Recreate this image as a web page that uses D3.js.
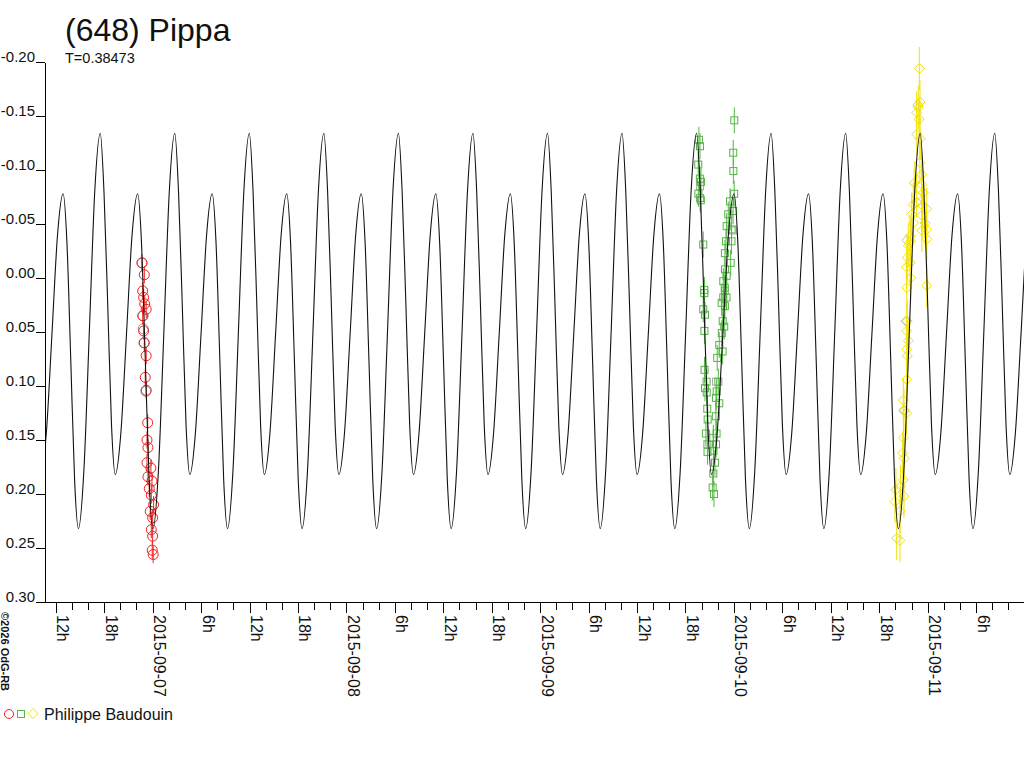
<!DOCTYPE html>
<html>
<head>
<meta charset="utf-8">
<script src="https://cdnjs.cloudflare.com/ajax/libs/d3/7.8.5/d3.min.js"></script>
<style>
body { margin: 0; background: #fff; }
text { font-family: "Liberation Sans", Arial, sans-serif; fill: #111; }
</style>
</head>
<body>
<script>
var title = "(648) Pippa";
var periodDays = 0.38473;
var epoch = "2015-09-06T17:30:36Z"; // time of a main maximum of the model
var observer = "Philippe Baudouin";
var credit = "\u00a92026 OdG-RB";

var xStart = "2015-09-06T10:40Z";
var xEnd = "2015-09-11T11:56Z";
var yTicks = [-0.20, -0.15, -0.10, -0.05, 0.00, 0.05, 0.10, 0.15, 0.20, 0.25, 0.30];

// one period of the model lightcurve
var modelPhase = [0, 0.05, 0.10, 0.151, 0.201, 0.276, 0.352, 0.427, 0.502, 0.553, 0.605, 0.656, 0.707, 0.780, 0.854, 0.927];
var modelMag = [-0.134, -0.080, 0.024, 0.136, 0.182, 0.144, 0.052, -0.040, -0.078, -0.033, 0.077, 0.187, 0.232, 0.179, 0.049, -0.081];

// observations: [time UT, magnitude]
var redObs = [
  ["2015-09-06T22:40Z", -0.014], ["2015-09-06T22:58Z", -0.003], ["2015-09-06T22:46Z", 0.012],
  ["2015-09-06T22:53Z", 0.018], ["2015-09-06T23:01Z", 0.024], ["2015-09-06T23:12Z", 0.029],
  ["2015-09-06T22:46Z", 0.035], ["2015-09-06T22:53Z", 0.049], ["2015-09-06T22:58Z", 0.060],
  ["2015-09-06T23:12Z", 0.072], ["2015-09-06T23:05Z", 0.092], ["2015-09-06T23:12Z", 0.104],
  ["2015-09-06T23:23Z", 0.134], ["2015-09-06T23:18Z", 0.150], ["2015-09-06T23:25Z", 0.157],
  ["2015-09-06T23:18Z", 0.171], ["2015-09-06T23:47Z", 0.176], ["2015-09-06T23:25Z", 0.184],
  ["2015-09-06T23:55Z", 0.188], ["2015-09-06T23:35Z", 0.195], ["2015-09-06T23:50Z", 0.201],
  ["2015-09-07T00:07Z", 0.210], ["2015-09-06T23:42Z", 0.216], ["2015-09-07T00:00Z", 0.222],
  ["2015-09-06T23:50Z", 0.233], ["2015-09-07T00:00Z", 0.239], ["2015-09-06T23:57Z", 0.252],
  ["2015-09-07T00:04Z", 0.256]
];
var greenObs = [
  ["2015-09-10T00:03Z", -0.146], ["2015-09-09T23:55Z", -0.116], ["2015-09-09T23:56Z", -0.099],
  ["2015-09-10T00:02Z", -0.078], ["2015-09-09T19:40Z", -0.128], ["2015-09-09T19:48Z", -0.122],
  ["2015-09-09T19:35Z", -0.105], ["2015-09-09T19:47Z", -0.092], ["2015-09-09T19:55Z", -0.089],
  ["2015-09-09T19:36Z", -0.078], ["2015-09-09T19:49Z", -0.074], ["2015-09-09T19:54Z", -0.072],
  ["2015-09-09T20:12Z", -0.031], ["2015-09-09T20:20Z", 0.011], ["2015-09-09T23:31Z", -0.071],
  ["2015-09-09T23:18Z", -0.059], ["2015-09-09T23:54Z", -0.062], ["2015-09-09T23:06Z", -0.048],
  ["2015-09-09T23:43Z", -0.045], ["2015-09-09T23:01Z", -0.034], ["2015-09-09T23:42Z", -0.034],
  ["2015-09-09T22:53Z", -0.023], ["2015-09-09T23:36Z", -0.014], ["2015-09-09T22:54Z", -0.008],
  ["2015-09-09T23:06Z", -0.002], ["2015-09-09T22:41Z", 0.003], ["2015-09-09T22:52Z", 0.009],
  ["2015-09-09T23:05Z", 0.018], ["2015-09-09T20:20Z", 0.014], ["2015-09-09T20:12Z", 0.029],
  ["2015-09-09T20:25Z", 0.034], ["2015-09-09T20:21Z", 0.049], ["2015-09-09T20:22Z", 0.085],
  ["2015-09-09T20:37Z", 0.096], ["2015-09-09T20:25Z", 0.102], ["2015-09-09T20:38Z", 0.106],
  ["2015-09-09T20:42Z", 0.121], ["2015-09-09T20:45Z", 0.131], ["2015-09-09T20:32Z", 0.144],
  ["2015-09-09T20:43Z", 0.154], ["2015-09-09T20:44Z", 0.161], ["2015-09-09T21:27Z", 0.181],
  ["2015-09-09T21:22Z", 0.194], ["2015-09-09T21:32Z", 0.200], ["2015-09-09T22:41Z", 0.018],
  ["2015-09-09T22:29Z", 0.023], ["2015-09-09T22:53Z", 0.026], ["2015-09-09T22:37Z", 0.040],
  ["2015-09-09T22:48Z", 0.045], ["2015-09-09T22:30Z", 0.051], ["2015-09-09T22:11Z", 0.062],
  ["2015-09-09T22:36Z", 0.068], ["2015-09-09T21:56Z", 0.074], ["2015-09-09T22:04Z", 0.096],
  ["2015-09-09T21:52Z", 0.105], ["2015-09-09T21:47Z", 0.111], ["2015-09-09T22:11Z", 0.116],
  ["2015-09-09T21:46Z", 0.128], ["2015-09-09T21:51Z", 0.144], ["2015-09-09T21:27Z", 0.148],
  ["2015-09-09T21:47Z", 0.154], ["2015-09-09T21:28Z", 0.160], ["2015-09-09T21:39Z", 0.171]
];
var yellowObs = [
  ["2015-09-10T22:58Z", -0.194], ["2015-09-10T22:50Z", -0.158], ["2015-09-10T23:03Z", -0.163],
  ["2015-09-10T22:38Z", -0.153], ["2015-09-10T22:57Z", -0.147], ["2015-09-10T22:39Z", -0.133],
  ["2015-09-10T23:04Z", -0.129], ["2015-09-10T23:02Z", -0.107], ["2015-09-10T23:16Z", -0.096],
  ["2015-09-10T22:20Z", -0.088], ["2015-09-10T23:15Z", -0.087], ["2015-09-10T23:27Z", -0.079],
  ["2015-09-10T22:38Z", -0.076], ["2015-09-10T22:13Z", -0.068], ["2015-09-10T23:23Z", -0.067],
  ["2015-09-10T23:53Z", -0.064], ["2015-09-10T22:01Z", -0.059], ["2015-09-10T23:16Z", -0.058],
  ["2015-09-10T22:14Z", -0.051], ["2015-09-10T23:40Z", -0.051], ["2015-09-10T23:52Z", -0.045],
  ["2015-09-10T23:17Z", -0.044], ["2015-09-10T21:49Z", -0.039], ["2015-09-10T21:54Z", -0.034],
  ["2015-09-10T21:36Z", -0.030], ["2015-09-10T23:53Z", -0.036], ["2015-09-10T21:28Z", -0.019],
  ["2015-09-10T21:49Z", -0.014], ["2015-09-10T21:24Z", -0.010], ["2015-09-10T21:54Z", 0.000],
  ["2015-09-10T21:25Z", 0.009], ["2015-09-10T23:53Z", 0.007], ["2015-09-10T21:28Z", 0.040],
  ["2015-09-10T21:24Z", 0.049], ["2015-09-10T21:36Z", 0.058], ["2015-09-10T21:25Z", 0.066],
  ["2015-09-10T21:29Z", 0.072], ["2015-09-10T21:24Z", 0.094], ["2015-09-10T20:59Z", 0.113],
  ["2015-09-10T21:04Z", 0.122], ["2015-09-10T21:23Z", 0.125], ["2015-09-10T21:00Z", 0.148],
  ["2015-09-10T20:54Z", 0.162], ["2015-09-10T21:05Z", 0.167], ["2015-09-10T20:59Z", 0.187],
  ["2015-09-10T20:39Z", 0.193], ["2015-09-10T20:04Z", 0.196], ["2015-09-10T21:04Z", 0.202],
  ["2015-09-10T19:57Z", 0.207], ["2015-09-10T20:34Z", 0.216], ["2015-09-10T20:10Z", 0.241],
  ["2015-09-10T20:34Z", 0.243]
];
// grey (uncorrected) points
var greyCircles = [["2015-09-06T22:43Z", -0.014], ["2015-09-06T22:50Z", 0.035], ["2015-09-06T22:50Z", 0.047], ["2015-09-06T22:55Z", 0.060], ["2015-09-06T23:10Z", 0.105]];
var greySquares = [["2015-09-09T19:48Z", -0.085], ["2015-09-09T23:53Z", -0.044], ["2015-09-09T21:47Z", 0.096], ["2015-09-09T22:53Z", 0.012]];
var greyDiamonds = [["2015-09-10T22:48Z", -0.160], ["2015-09-10T21:26Z", -0.035], ["2015-09-10T21:19Z", 0.040], ["2015-09-10T21:04Z", 0.123], ["2015-09-10T22:40Z", -0.070]];

var redErr = 0.008, greenErr = 0.012, yellowErr = 0.02;

var canvas = d3.select("body")
               .append("svg")
               .attr("width", 1024)
               .attr("height", 768);

canvas.append("rect").attr("width", 1024).attr("height", 768).attr("fill", "#fff");

var x = d3.scaleUtc()
          .domain([d3.isoParse(xStart), d3.isoParse(xEnd)])
          .range([45, 1024]);
var y = d3.scaleLinear()
          .domain([-0.20, 0.30])
          .range([62, 602]);

// title
canvas.append("text").attr("x", 65).attr("y", 41)
      .style("font-size", "32px").text(title);
canvas.append("text").attr("x", 65).attr("y", 63)
      .style("font-size", "14.5px").attr("fill", "#333").text("T=" + periodDays);

// y axis
var yAxis = canvas.append("g")
      .attr("transform", "translate(45,0)")
      .call(d3.axisLeft(y).tickValues(yTicks).tickSize(9).tickSizeOuter(0)
              .tickFormat(function(d) { return d.toFixed(2); }));
yAxis.selectAll("path, line").attr("stroke", "#000").attr("shape-rendering", "crispEdges");
yAxis.selectAll("text")
     .attr("x", -10).attr("dy", 0).attr("y", -1)
     .style("font-size", "15px").attr("fill", "#111")
     .style("font-family", "'Liberation Sans', Arial, sans-serif");

// x axis
canvas.append("line").attr("x1", 36).attr("x2", 1024).attr("y1", 602).attr("y2", 602)
      .attr("stroke", "#000").attr("shape-rendering", "crispEdges");
var xAxis = canvas.append("g")
      .attr("transform", "translate(0,602)")
      .call(d3.axisBottom(x).ticks(d3.utcHour.every(2)).tickSize(8).tickSizeOuter(0)
              .tickFormat(function(d) {
                var h = d.getUTCHours();
                if (h == 0) return d3.utcFormat("%Y-%m-%d")(d);
                if (h % 6 == 0) return h + "h";
                return "";
              }));
xAxis.select(".domain").remove();
xAxis.selectAll("line").attr("stroke", "#000").attr("shape-rendering", "crispEdges")
     .attr("y2", function(d) { return d.getUTCHours() % 6 == 0 ? 11 : 8; });
xAxis.selectAll("text")
     .attr("transform", "rotate(90)")
     .attr("x", 13).attr("y", -1).attr("dy", 0)
     .attr("text-anchor", "start")
     .style("font-size", "16px").attr("fill", "#111")
     .style("font-family", "'Liberation Sans', Arial, sans-serif");

// credit
canvas.append("text")
      .attr("transform", "translate(1,612) rotate(90)")
      .style("font-size", "11px").style("font-weight", "bold")
      .text(credit);

// plot area clip
canvas.append("clipPath").attr("id", "plot")
      .append("rect").attr("x", 46).attr("y", 0).attr("width", 978).attr("height", 601);
var plot = canvas.append("g").attr("clip-path", "url(#plot)");

function parse(rows) {
  return rows.map(function(r) { return { t: d3.isoParse(r[0]), m: r[1] }; });
}

var diamond = "M0,-5L5,0L0,5L-5,0Z";

function drawSet(rows, colour, shape, err) {
  var pts = parse(rows);
  var g = plot.append("g");
  if (err) {
    g.selectAll("line").data(pts).enter().append("line")
     .attr("x1", function(d) { return x(d.t); })
     .attr("x2", function(d) { return x(d.t); })
     .attr("y1", function(d) { return y(d.m - err); })
     .attr("y2", function(d) { return y(d.m + err); })
     .attr("stroke", colour).attr("stroke-width", 1);
  }
  var sel = g.selectAll(".pt").data(pts).enter();
  if (shape == "circle") {
    sel.append("circle").attr("class", "pt")
       .attr("cx", function(d) { return x(d.t); })
       .attr("cy", function(d) { return y(d.m); })
       .attr("r", 5);
  } else if (shape == "square") {
    sel.append("rect").attr("class", "pt")
       .attr("x", function(d) { return x(d.t) - 3.5; })
       .attr("y", function(d) { return y(d.m) - 3.5; })
       .attr("width", 7).attr("height", 7);
  } else {
    sel.append("path").attr("class", "pt")
       .attr("d", diamond)
       .attr("transform", function(d) { return "translate(" + x(d.t) + "," + y(d.m) + ")"; });
  }
  g.selectAll(".pt").attr("fill", "none").attr("stroke", colour).attr("stroke-width", 1);
}

drawSet(greyCircles, "#999", "circle", 0);
drawSet(greySquares, "#aaa", "square", 0);
drawSet(greyDiamonds, "#bbb", "diamond", 0);
drawSet(redObs, "#ee2222", "circle", redErr);
drawSet(greenObs, "#55b545", "square", greenErr);
drawSet(yellowObs, "#f2e200", "diamond", yellowErr);

// model curve, one period repeated across the time range
var T = periodDays * 86400000;
var t0 = d3.isoParse(epoch).getTime();
var kFirst = Math.floor((x.domain()[0].getTime() - t0) / T) - 1;
var kLast = Math.ceil((x.domain()[1].getTime() - t0) / T) + 1;
var model = [];
for (var k = kFirst; k <= kLast; k++) {
  modelPhase.forEach(function(p, i) {
    model.push({ t: new Date(t0 + (k + p) * T), m: modelMag[i] });
  });
}
plot.append("path")
    .datum(model)
    .attr("fill", "none")
    .attr("stroke", "#111")
    .attr("stroke-width", 1.1)
    .attr("d", d3.line()
                 .x(function(d) { return x(d.t); })
                 .y(function(d) { return y(d.m); })
                 .curve(d3.curveMonotoneX));

// legend
var legend = canvas.append("g").attr("transform", "translate(0,714)");
legend.append("circle").attr("cx", 9).attr("cy", 0).attr("r", 4.5)
      .attr("fill", "none").attr("stroke", "#ee2222");
legend.append("rect").attr("x", 17.5).attr("y", -3.5).attr("width", 7).attr("height", 7)
      .attr("fill", "none").attr("stroke", "#55b545");
legend.append("path").attr("d", diamond).attr("transform", "translate(33,-0.5)")
      .attr("fill", "none").attr("stroke", "#f2e200");
legend.append("text").attr("x", 44).attr("y", 6)
      .style("font-size", "16px").text(observer);
</script>
</body>
</html>
